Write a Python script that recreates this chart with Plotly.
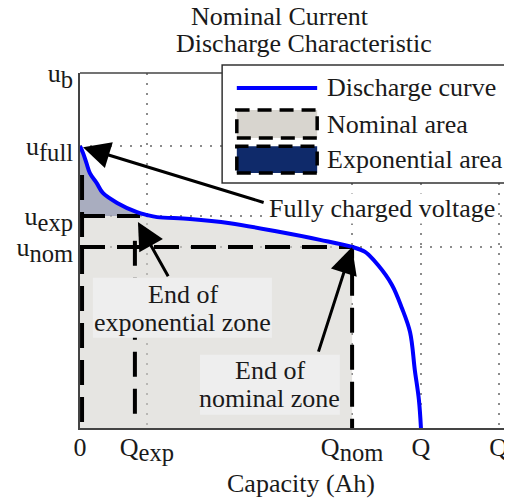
import plotly.graph_objects as go

# ---------------- data (capacity in units of rated Q, voltage in units of u_b) ----------------
capacity = [0.0, 0.0088, 0.019, 0.029, 0.049, 0.067, 0.109, 0.167, 0.196, 0.226, 0.323,
            0.440, 0.587, 0.704, 0.798, 0.836, 0.874, 0.915, 0.944, 0.968, 0.982, 0.994, 1.0]
voltage = [0.794, 0.775, 0.746, 0.718, 0.690, 0.662, 0.634, 0.608, 0.600, 0.594, 0.589,
           0.577, 0.552, 0.530, 0.510, 0.496, 0.459, 0.403, 0.338, 0.270, 0.163, 0.079, 0.0]

Q_EXP = 0.196
Q_NOM = 0.798
Q_RATED = 1.0
Q_MAX = 1.228
U_B = 1.0
U_FULL = 0.794
U_EXP = 0.597
U_NOM = 0.510

# dashed outline of the exponential area as it appears in the picture
exp_edge_x = 0.161
exp_top_end_x = 0.176
exp_left_x = 0.006
exp_left_top = 0.713
exp_edge_y = [0.04, 0.56]

x_tick_vals = [0, Q_EXP, Q_NOM, Q_RATED, Q_MAX]
SUB = '<sub><span style="font-size:135%">{}</span></sub>'
x_tick_text = ["0", "Q" + SUB.format("exp"), "Q" + SUB.format("nom"), "Q", "Q"]
y_tick_vals = [U_NOM, U_EXP, U_FULL, U_B]
y_tick_text = ["u" + SUB.format("nom"), "u" + SUB.format("exp"),
               "u" + SUB.format("full"), "u" + SUB.format("b")]

FONT = "Liberation Serif"
DASH = "25px,12px"

fig = go.Figure()

# nominal area (under curve up to Q_nom)
nom_x = [c for c in capacity if c <= Q_NOM]
nom_y = voltage[:len(nom_x)]
fig.add_trace(go.Scatter(x=nom_x, y=nom_y, mode="lines", line=dict(width=0, shape="spline"),
                         fill="tozeroy", fillcolor="rgba(214,212,206,0.6)", hoverinfo="skip"))

# exponential area (between curve and u_exp up to Q_exp)
exp_x = [c for c in capacity if c <= Q_EXP]
exp_y = voltage[:len(exp_x)]
fig.add_trace(go.Scatter(x=[0, Q_EXP], y=[U_EXP, U_EXP], mode="lines", line=dict(width=0),
                         hoverinfo="skip"))
fig.add_trace(go.Scatter(x=exp_x, y=exp_y, mode="lines", line=dict(width=0, shape="spline"),
                         fill="tonexty", fillcolor="rgba(128,135,168,0.6)", hoverinfo="skip"))

dash_line = dict(color="black", width=4, dash=DASH)
# nominal area outline
fig.add_trace(go.Scatter(x=[0, Q_NOM, Q_NOM], y=[U_NOM, U_NOM, 0], mode="lines",
                         line=dash_line, hoverinfo="skip"))
# exponential area outline
fig.add_trace(go.Scatter(x=[0, exp_top_end_x], y=[U_EXP, U_EXP], mode="lines",
                         line=dash_line, hoverinfo="skip"))
fig.add_trace(go.Scatter(x=[exp_edge_x, exp_edge_x], y=exp_edge_y, mode="lines",
                         line=dash_line, hoverinfo="skip"))
fig.add_trace(go.Scatter(x=[exp_left_x, exp_left_x], y=[exp_left_top, 0], mode="lines",
                         line=dash_line, hoverinfo="skip"))

# discharge curve
fig.add_trace(go.Scatter(x=capacity, y=voltage, mode="lines", name="Discharge curve",
                         line=dict(color="#0000ff", width=4, shape="spline")))

grid = dict(showgrid=True, gridcolor="#8c8c8c", gridwidth=1.5, griddash="2px,8px",
            showline=True, linecolor="#444", linewidth=1.5, zeroline=False, ticks="",
            tickfont=dict(family=FONT, size=26, color="#1a1a1a"), fixedrange=True,
            automargin=False)

fig.update_xaxes(range=[0, 1.267], tickmode="array", tickvals=x_tick_vals, ticktext=x_tick_text,
                 ticklabelstandoff=-5, **grid)
fig.update_yaxes(range=[0, 1.0], tickmode="array", tickvals=y_tick_vals, ticktext=y_tick_text,
                 ticklabelstandoff=0, **grid)

shapes = []
# top border
shapes.append(dict(type="line", xref="paper", yref="paper", x0=0, x1=1, y0=1, y1=1,
                   line=dict(color="#444", width=1.5)))
# text boxes
shapes.append(dict(type="rect", xref="x", yref="y", x0=0.038, x1=0.563, y0=0.254, y1=0.423,
                   fillcolor="#eeeeee", line=dict(width=0), layer="above"))
shapes.append(dict(type="rect", xref="x", yref="y", x0=0.352, x1=0.762, y0=0.037, y1=0.206,
                   fillcolor="#eeeeee", line=dict(width=0), layer="above"))
# legend box
shapes.append(dict(type="rect", xref="paper", yref="paper", x0=0.329, x1=0.998, y0=0.690, y1=1.0225,
                   fillcolor="white", line=dict(color="#333", width=1.5), layer="above"))
shapes.append(dict(type="line", xref="paper", yref="paper", x0=0.363, x1=0.549, y0=0.958, y1=0.958,
                   line=dict(color="#0000ff", width=4), layer="above"))
shapes.append(dict(type="rect", xref="paper", yref="paper", x0=0.363, x1=0.549, y0=0.817, y1=0.896,
                   fillcolor="#d8d5cf", line=dict(color="black", width=3.5, dash="14px,8px"),
                   layer="above"))
shapes.append(dict(type="rect", xref="paper", yref="paper", x0=0.363, x1=0.549, y0=0.718, y1=0.794,
                   fillcolor="#0f2a6a", line=dict(color="black", width=3.5, dash="14px,8px"),
                   layer="above"))

txt = dict(family=FONT, size=26, color="#1a1a1a")
annotations = []
# title
annotations.append(dict(text="Nominal Current", xref="paper", yref="paper", x=0.463, y=1.16,
                        showarrow=False, font=txt, xanchor="center", yanchor="middle"))
annotations.append(dict(text="Discharge Characteristic", xref="paper", yref="paper", x=0.519, y=1.082,
                        showarrow=False, font=txt, xanchor="center", yanchor="middle"))
# x-axis title
annotations.append(dict(text="Capacity (Ah)", xref="paper", yref="paper", x=0.512, y=-0.155,
                        showarrow=False, font=txt, xanchor="center", yanchor="middle"))
# legend texts
for label, yy in [("Discharge curve", 0.958), ("Nominal area", 0.854), ("Exponential area", 0.755)]:
    annotations.append(dict(text=label, xref="paper", yref="paper", x=0.567, y=yy, showarrow=False,
                            font=txt, xanchor="left", yanchor="middle"))
# box texts
annotations.append(dict(text="End of", x=0.302, y=0.377, showarrow=False, font=txt,
                        xanchor="center", yanchor="middle"))
annotations.append(dict(text="exponential zone", x=0.302, y=0.296, showarrow=False, font=txt,
                        xanchor="center", yanchor="middle"))
annotations.append(dict(text="End of", x=0.557, y=0.163, showarrow=False, font=txt,
                        xanchor="center", yanchor="middle"))
annotations.append(dict(text="nominal zone", x=0.557, y=0.082, showarrow=False, font=txt,
                        xanchor="center", yanchor="middle"))
annotations.append(dict(text="Fully charged voltage", x=0.551, y=0.619, showarrow=False, font=txt,
                        xanchor="left", yanchor="middle", bgcolor="white", borderpad=0))
# arrows
arrow = dict(text="", showarrow=True, arrowhead=2, arrowsize=1.8, arrowwidth=3, arrowcolor="black",
             xref="x", yref="y", axref="x", ayref="y", standoff=0)
annotations.append(dict(x=0.0088, y=0.791, ax=0.543, ay=0.634, **arrow))
annotations.append(dict(x=0.170, y=0.580, ax=0.261, ay=0.423, **arrow))
annotations.append(dict(x=Q_NOM, y=U_NOM, ax=0.698, ay=0.211, **arrow))

# the page body adds an 8px offset, so margins are reduced by 8px accordingly
fig.update_layout(width=504, height=495, margin=dict(l=72, r=0, t=65, b=75),
                  paper_bgcolor="white", plot_bgcolor="white", showlegend=False,
                  font=dict(family=FONT, size=26, color="#1a1a1a"),
                  shapes=shapes, annotations=annotations)

fig.write_html("out.html")
